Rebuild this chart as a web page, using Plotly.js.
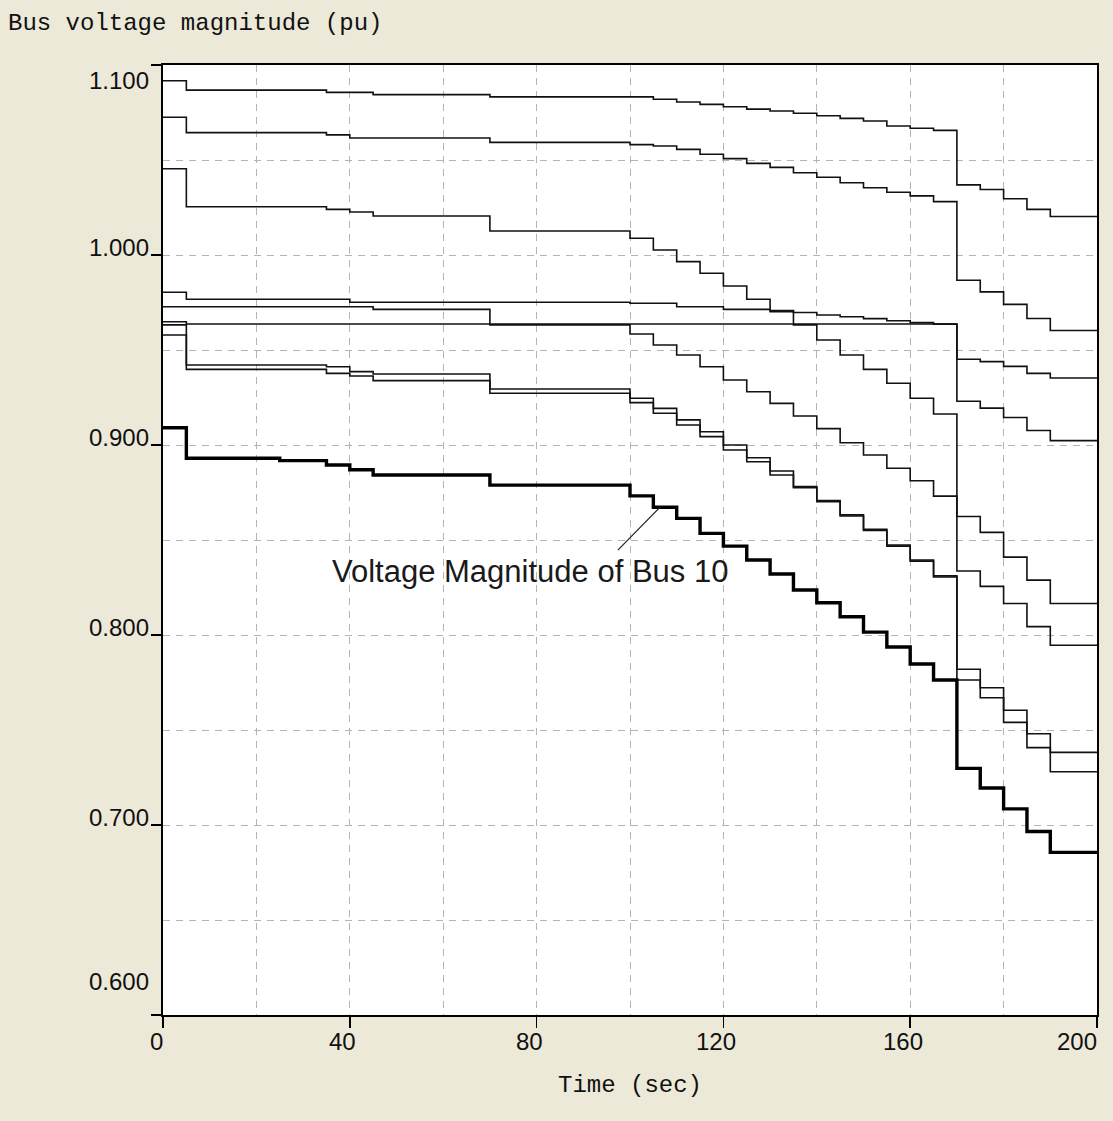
<!DOCTYPE html>
<html>
<head>
<meta charset="utf-8">
<script src="https://cdn.plot.ly/plotly-3.0.1.min.js"></script>
<style>
  html, body { margin: 0; padding: 0; background: #ece9d8; }
  #chart { width: 1113px; height: 1121px; }
</style>
</head>
<body>
<div id="chart"></div>
<script>
// Simulation output, sampled every 5 s; each value holds until the next sample.
const time = [0, 5, 10, 15, 20, 25, 30, 35, 40, 45, 50, 55, 60, 65, 70, 75, 80, 85, 90, 95,
              100, 105, 110, 115, 120, 125, 130, 135, 140, 145, 150, 155, 160, 165, 170, 175,
              180, 185, 190, 195, 200];

const v1 = [1.0917, 1.0868, 1.0868, 1.0868, 1.0868, 1.0868, 1.0868, 1.0856, 1.0856, 1.0844,
            1.0844, 1.0844, 1.0844, 1.0844, 1.0832, 1.0832, 1.0832, 1.0832, 1.0832, 1.0832,
            1.0832, 1.0820, 1.0805, 1.0793, 1.0780, 1.0768, 1.0758, 1.0746, 1.0733, 1.0719,
            1.0705, 1.0679, 1.0667, 1.0656, 1.0369, 1.0345, 1.0296, 1.0240, 1.0203, 1.0203, 1.0203];

const v2 = [1.0725, 1.0644, 1.0644, 1.0644, 1.0644, 1.0644, 1.0644, 1.0632, 1.0616, 1.0616,
            1.0616, 1.0616, 1.0616, 1.0616, 1.0593, 1.0593, 1.0593, 1.0593, 1.0593, 1.0593,
            1.0581, 1.0574, 1.0556, 1.0530, 1.0507, 1.0482, 1.0461, 1.0433, 1.0409, 1.0380,
            1.0354, 1.0330, 1.0311, 1.0281, 0.9867, 0.9806, 0.9740, 0.9666, 0.9603, 0.9603, 0.9603];

const v3 = [1.0454, 1.0254, 1.0254, 1.0254, 1.0254, 1.0254, 1.0254, 1.0240, 1.0226, 1.0205,
            1.0205, 1.0205, 1.0205, 1.0205, 1.0126, 1.0126, 1.0126, 1.0126, 1.0126, 1.0126,
            1.0088, 1.0026, 0.9965, 0.9904, 0.9837, 0.9767, 0.9702, 0.9632, 0.9553, 0.9474,
            0.9398, 0.9325, 0.9246, 0.9163, 0.8624, 0.8540, 0.8410, 0.8289, 0.8166, 0.8166, 0.8166];

const v4 = [0.9804, 0.9767, 0.9767, 0.9767, 0.9767, 0.9767, 0.9767, 0.9767, 0.9751, 0.9751,
            0.9751, 0.9751, 0.9751, 0.9751, 0.9751, 0.9751, 0.9751, 0.9751, 0.9751, 0.9751,
            0.9746, 0.9746, 0.9728, 0.9728, 0.9714, 0.9714, 0.9707, 0.9697, 0.9684, 0.9675,
            0.9665, 0.9654, 0.9644, 0.9636, 0.9451, 0.9439, 0.9414, 0.9377, 0.9353, 0.9353, 0.9353];

const v5 = [0.9728, 0.9728, 0.9728, 0.9728, 0.9728, 0.9728, 0.9728, 0.9728, 0.9728, 0.9714,
            0.9714, 0.9714, 0.9714, 0.9714, 0.9632, 0.9632, 0.9632, 0.9632, 0.9632, 0.9632,
            0.9584, 0.9526, 0.9474, 0.9412, 0.9342, 0.9280, 0.9219, 0.9153, 0.9086, 0.9012,
            0.8947, 0.8878, 0.8812, 0.8731, 0.8337, 0.8256, 0.8166, 0.8044, 0.7946, 0.7946, 0.7946];

const v6 = [0.9649, 0.9637, 0.9637, 0.9637, 0.9637, 0.9637, 0.9637, 0.9637, 0.9637, 0.9637,
            0.9637, 0.9637, 0.9637, 0.9637, 0.9637, 0.9637, 0.9637, 0.9637, 0.9637, 0.9637,
            0.9637, 0.9637, 0.9637, 0.9637, 0.9637, 0.9637, 0.9637, 0.9637, 0.9637, 0.9637,
            0.9637, 0.9637, 0.9637, 0.9637, 0.9230, 0.9194, 0.9145, 0.9076, 0.9023, 0.9023, 0.9023];

const v7 = [0.9632, 0.9421, 0.9421, 0.9421, 0.9421, 0.9421, 0.9421, 0.9412, 0.9386, 0.9374,
            0.9374, 0.9374, 0.9374, 0.9374, 0.9295, 0.9295, 0.9295, 0.9295, 0.9295, 0.9295,
            0.9246, 0.9193, 0.9132, 0.9070, 0.9000, 0.8933, 0.8863, 0.8781, 0.8707, 0.8632,
            0.8556, 0.8474, 0.8395, 0.8311, 0.7820, 0.7722, 0.7604, 0.7480, 0.7382, 0.7382, 0.7382];

const v8 = [0.9579, 0.9398, 0.9398, 0.9398, 0.9398, 0.9398, 0.9398, 0.9377, 0.9363, 0.9339,
            0.9339, 0.9339, 0.9339, 0.9339, 0.9272, 0.9272, 0.9272, 0.9272, 0.9272, 0.9272,
            0.9223, 0.9167, 0.9105, 0.9044, 0.8974, 0.8912, 0.8842, 0.8775, 0.8701, 0.8626,
            0.8550, 0.8468, 0.8389, 0.8305, 0.7763, 0.7670, 0.7540, 0.7407, 0.7280, 0.7280, 0.7280];

const bus10 = [0.9091, 0.8930, 0.8930, 0.8930, 0.8930, 0.8918, 0.8918, 0.8895, 0.8870, 0.8842,
               0.8842, 0.8842, 0.8842, 0.8842, 0.8789, 0.8789, 0.8789, 0.8789, 0.8789, 0.8789,
               0.8732, 0.8672, 0.8614, 0.8535, 0.8468, 0.8395, 0.8321, 0.8237, 0.8170, 0.8096,
               0.8015, 0.7937, 0.7847, 0.7763, 0.7298, 0.7195, 0.7085, 0.6966, 0.6856, 0.6856, 0.6856];

const thinSeries = [v1, v2, v3, v4, v5, v6, v7, v8];

const xTickVals = [0, 40, 80, 120, 160, 200];
const xTickText = ['0', '40', '80', '120', '160', '200'];
const yTickVals = [0.6, 0.7, 0.8, 0.9, 1.0, 1.1];
const yTickText = ['0.600', '0.700', '0.800', '0.900', '1.000', '1.100'];

const titleText = 'Bus voltage magnitude (pu)';
const xTitleText = 'Time (sec)';
const calloutText = 'Voltage Magnitude of Bus 10';

const monoFont = 'Liberation Mono, DejaVu Sans Mono, monospace';
const sansFont = 'Liberation Sans, Arial, sans-serif';
const ink = '#111111';
const gridColor = '#b4b4b4';

const traces = thinSeries.map(vals => ({
  x: time, y: vals, type: 'scatter', mode: 'lines',
  line: { shape: 'hv', color: ink, width: 1.6 },
  hoverinfo: 'skip', showlegend: false
}));
traces.push({
  x: time, y: bus10, type: 'scatter', mode: 'lines', name: 'Bus 10',
  line: { shape: 'hv', color: '#000000', width: 3.4 },
  hoverinfo: 'skip', showlegend: false
});

// Tick labels sit just above their tick; the end labels are pulled inside the frame.
const annotations = [];
yTickVals.forEach((v, i) => {
  let shift = 8;
  if (i === 0) shift = 34;
  if (i === yTickVals.length - 1) shift = -15;
  annotations.push({
    xref: 'paper', yref: 'y', x: 0, y: v, xanchor: 'right', yanchor: 'middle',
    xshift: -12, yshift: shift, showarrow: false, text: yTickText[i],
    font: { family: sansFont, size: 24, color: ink }
  });
});
xTickVals.forEach((v, i) => {
  const last = i === xTickVals.length - 1;
  annotations.push({
    xref: 'x', yref: 'paper', x: v, y: 0, xanchor: last ? 'right' : 'center', yanchor: 'middle',
    xshift: last ? 2 : -7, yshift: -26, showarrow: false, text: xTickText[i],
    font: { family: sansFont, size: 24, color: ink }
  });
});
annotations.push({
  xref: 'x', yref: 'y', x: 78.6, y: 0.8332, xanchor: 'center', yanchor: 'middle',
  showarrow: false, text: calloutText,
  font: { family: sansFont, size: 31, color: '#1a1a1a' }
});
annotations.push({
  xref: 'paper', yref: 'paper', x: 0.5, y: 0, xanchor: 'center', yanchor: 'middle',
  yshift: -70, showarrow: false, text: xTitleText,
  font: { family: monoFont, size: 24, color: ink }
});

// Leader from the callout to the Bus 10 curve
const shapes = [{
  type: 'line', xref: 'x', yref: 'y',
  x0: 97.4, y0: 0.8447, x1: time[21] + 1.4, y1: bus10[21],
  line: { color: '#222222', width: 1.2 }
}];

const layout = {
  width: 1113, height: 1121,
  paper_bgcolor: '#ece9d8', plot_bgcolor: '#ffffff',
  margin: { l: 163, r: 16, t: 65, b: 106, pad: 0 },
  title: {
    text: titleText, xref: 'container', yref: 'container',
    x: 8 / 1113, xanchor: 'left', y: 1 - 22 / 1121, yanchor: 'middle',
    font: { family: monoFont, size: 24, color: ink }
  },
  xaxis: {
    range: [0, 200], tickvals: xTickVals, showticklabels: false,
    ticks: 'outside', ticklen: 11, tickwidth: 1.5, tickcolor: '#000',
    showline: true, linecolor: '#000', linewidth: 2, mirror: true,
    showgrid: true, gridcolor: gridColor, griddash: '7px,6px', gridwidth: 1,
    minor: { dtick: 20, tick0: 0, showgrid: true, gridcolor: gridColor, griddash: '7px,6px', gridwidth: 1, ticks: '' },
    zeroline: false, fixedrange: true
  },
  yaxis: {
    range: [0.6, 1.1], tickvals: yTickVals, showticklabels: false,
    ticks: 'outside', ticklen: 10, tickwidth: 1.5, tickcolor: '#000',
    showline: true, linecolor: '#000', linewidth: 2, mirror: true,
    showgrid: true, gridcolor: gridColor, griddash: '7px,6px', gridwidth: 1,
    minor: { dtick: 0.05, tick0: 0.6, showgrid: true, gridcolor: gridColor, griddash: '7px,6px', gridwidth: 1, ticks: '' },
    zeroline: false, fixedrange: true
  },
  annotations: annotations,
  shapes: shapes,
  showlegend: false
};

Plotly.newPlot('chart', traces, layout, { displayModeBar: false, staticPlot: true });
</script>
</body>
</html>
